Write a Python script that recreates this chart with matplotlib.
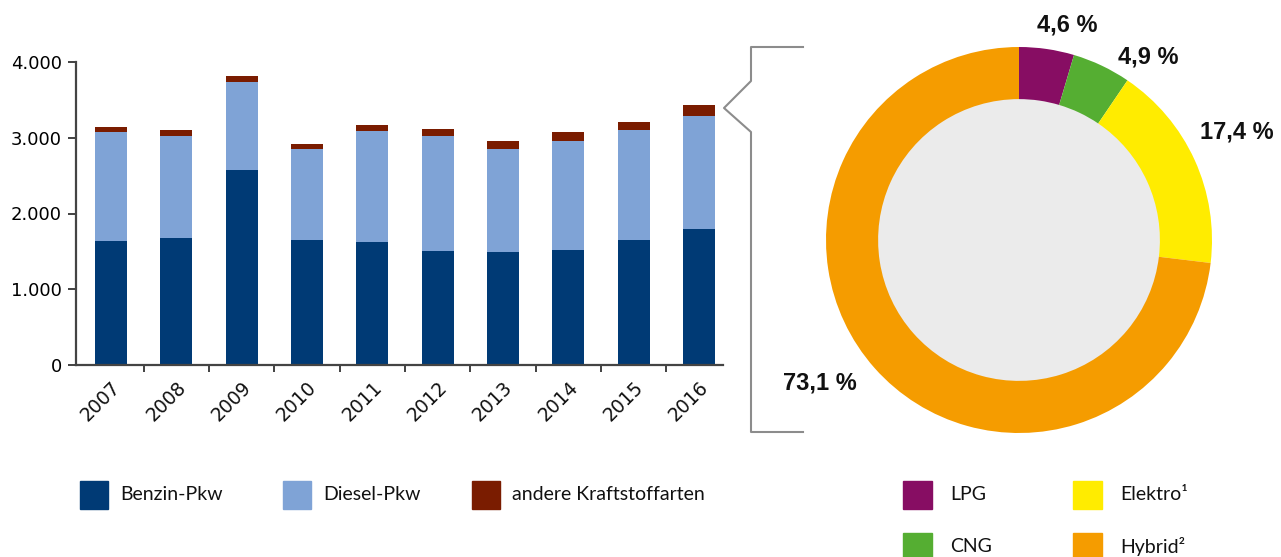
import numpy as np
import matplotlib.pyplot as plt
from matplotlib.lines import Line2D
from matplotlib.patches import Rectangle
from matplotlib.ticker import FuncFormatter, FixedLocator

# Daten (Neuzulassungen in Tsd.)
years = ['2007', '2008', '2009', '2010', '2011', '2012', '2013', '2014', '2015', '2016']
benzin = [1636, 1675, 2573, 1649, 1623, 1504, 1491, 1517, 1649, 1794]
diesel = [1438, 1346, 1161, 1201, 1464, 1517, 1359, 1438, 1451, 1491]
andere = [66, 79, 79, 66, 79, 92, 105, 119, 106, 145]
bar_labels = ['Benzin-Pkw', 'Diesel-Pkw', 'andere Kraftstoffarten']
bar_colors = ['#003a75', '#7fa3d6', '#7a1c00']

pie_labels = ['LPG', 'CNG', 'Elektro\u00b9', 'Hybrid\u00b2']
pie_values = [4.6, 4.9, 17.4, 73.1]
pie_colors = ['#870d63', '#55ae32', '#ffec00', '#f59c00']

W, H = 1281, 557
fig = plt.figure(figsize=(W / 100, H / 100), dpi=100)


def fx(px):
    return px / W


def fy(py):
    return 1 - py / H


# Balkendiagramm
ax = fig.add_axes([fx(76), fy(365), fx(723) - fx(76), fy(62) - fy(365)])
x = np.arange(len(years))
b1 = np.array(benzin)
b2 = np.array(diesel)
b3 = np.array(andere)
ax.bar(x, b1, width=0.49, color=bar_colors[0])
ax.bar(x, b2, width=0.49, bottom=b1, color=bar_colors[1])
ax.bar(x, b3, width=0.49, bottom=b1 + b2, color=bar_colors[2])
ax.set_xlim(-0.536, len(years) - 0.63)
ax.set_ylim(0, 4000)
ax.set_yticks([0, 1000, 2000, 3000, 4000])
ax.yaxis.set_major_formatter(FuncFormatter(lambda v, p: f'{int(v):,}'.replace(',', '.')))
ax.set_xticks(x)
ax.set_xticklabels(years, rotation=45, ha='right', rotation_mode='anchor',
                   family='DejaVu Sans', fontsize=13.5)
ax.xaxis.set_minor_locator(FixedLocator(np.arange(len(years) - 1) + 0.5))
ax.tick_params(axis='x', which='major', length=0, pad=9, colors='#111111')
ax.tick_params(axis='x', which='minor', length=5, width=1.3, color='#333333', direction='out')
ax.tick_params(axis='y', length=6, width=1.3, color='#333333', labelsize=13, pad=4)
for lbl in ax.get_yticklabels():
    lbl.set_family('DejaVu Sans')
for s in ['top', 'right']:
    ax.spines[s].set_visible(False)
for s in ['left', 'bottom']:
    ax.spines[s].set_color('#444444')
    ax.spines[s].set_linewidth(1.6)

# Klammer zum Ring
bx = [803, 751, 751, 724, 751, 751, 803]
by = [47, 47, 81, 108, 132, 432, 432]
fig.add_artist(Line2D([fx(v) for v in bx], [fy(v) for v in by], color='#8c8c8c', lw=1.5))

# Ringdiagramm
cx, cy, r = 1019, 240, 193
half = 210
pax = fig.add_axes([fx(cx - half), fy(cy + half), 2 * half / W, 2 * half / H])
pax.pie(pie_values, colors=pie_colors, startangle=90, counterclock=False, radius=1,
        wedgeprops=dict(width=0.27, linewidth=0))
pax.add_patch(plt.Circle((0, 0), 0.73, color='#ebebeb', zorder=0))
pax.set_xlim(-half / r, half / r)
pax.set_ylim(-half / r, half / r)
pax.set_aspect('equal')
pax.axis('off')

lab_pos = [(1067, 25), (1148, 57), (1237, 132), (820, 383)]
for val, (px, py) in zip(pie_values, lab_pos):
    fig.text(fx(px), fy(py), f'{val:.1f} %'.replace('.', ','), ha='center', va='center',
             fontsize=17, fontweight='bold', family='Liberation Sans', color='#111111')

# Legenden
leg_font = ['Lato', 'DejaVu Sans']
leg1_x = [80, 283, 472]
for lx, lab, col in zip(leg1_x, bar_labels, bar_colors):
    fig.add_artist(Rectangle((fx(lx), fy(509)), 28 / W, 28 / H, color=col, transform=fig.transFigure))
    fig.text(fx(lx + 40), fy(495), lab, ha='left', va='center', fontsize=14,
             family=leg_font, color='#111111')

leg2_pos = [(903, 495), (903, 547), (1073, 495), (1073, 547)]
for (lx, ly), lab, col in zip(leg2_pos, pie_labels, pie_colors):
    fig.add_artist(Rectangle((fx(lx), fy(ly + 14)), 29 / W, 28 / H, color=col, transform=fig.transFigure))
    fig.text(fx(lx + 47), fy(ly), lab, ha='left', va='center', fontsize=14,
             family=leg_font, color='#111111')

fig.savefig('out.png', dpi=100)
